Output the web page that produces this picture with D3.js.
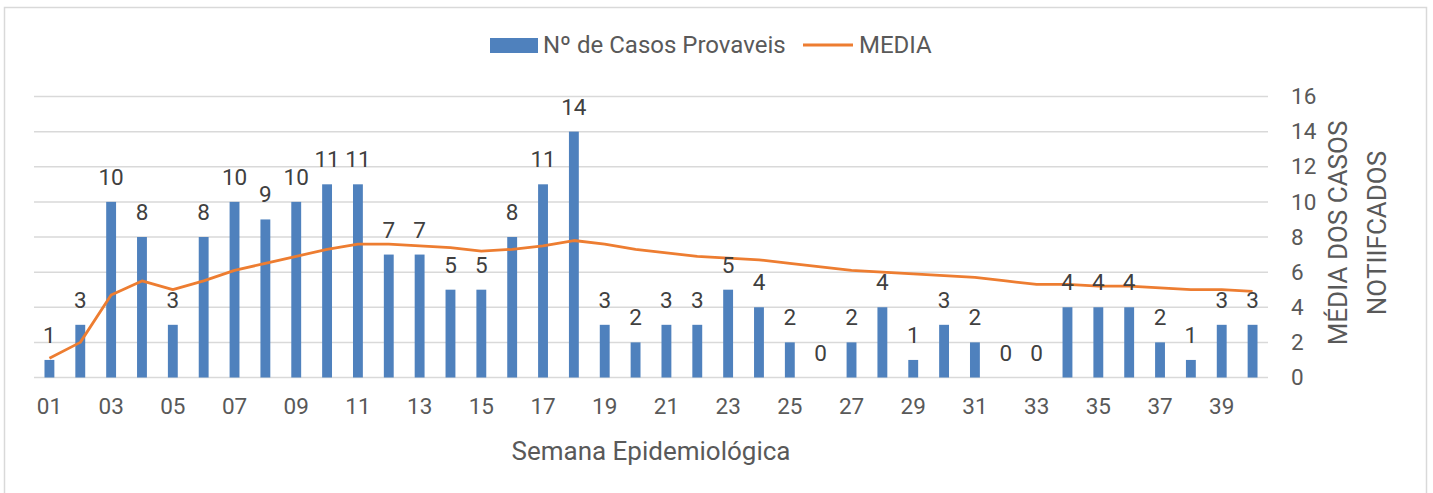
<!DOCTYPE html>
<html>
<head>
<meta charset="utf-8">
<script src="https://cdn.jsdelivr.net/npm/d3@7"></script>
<style>
  body { margin: 0; background: #fff; }
  svg text { font-family: Roboto, "Noto Sans", sans-serif; }
</style>
</head>
<body>
<div id="chart"></div>
<script>
var width = 1433;
var height = 493;

// semanas epidemiologicas
var semanas = ['01','02','03','04','05','06','07','08','09','10',
               '11','12','13','14','15','16','17','18','19','20',
               '21','22','23','24','25','26','27','28','29','30',
               '31','32','33','34','35','36','37','38','39','40'];

// Nº de Casos Provaveis
var casos = [1, 3, 10, 8, 3, 8, 10, 9, 10, 11,
             11, 7, 7, 5, 5, 8, 11, 14, 3, 2,
             3, 3, 5, 4, 2, 0, 2, 4, 1, 3,
             2, 0, 0, 4, 4, 4, 2, 1, 3, 3];

// MEDIA
var media = [1.1, 2.0, 4.7, 5.5, 5.0, 5.5, 6.1, 6.5, 6.9, 7.3,
             7.6, 7.6, 7.5, 7.4, 7.2, 7.3, 7.5, 7.8, 7.6, 7.3,
             7.1, 6.9, 6.8, 6.7, 6.5, 6.3, 6.1, 6.0, 5.9, 5.8,
             5.7, 5.5, 5.3, 5.3, 5.2, 5.2, 5.1, 5.0, 5.0, 4.9];

var yTicks = [0, 2, 4, 6, 8, 10, 12, 14, 16];
var xTickLabels = semanas.filter(function(d, i) { return i % 2 === 0; });

var svg = d3.select('#chart')
    .append('svg')
    .attr('width', width)
    .attr('height', height);

// chart frame
svg.append('rect')
    .attr('x', 4.5).attr('y', 7.5)
    .attr('width', 1422).attr('height', 520)
    .attr('fill', 'none')
    .attr('stroke', '#d9d9d9')
    .attr('stroke-width', 1.5);

var x = d3.scaleBand()
    .domain(semanas)
    .range([34, 1268])
    .paddingInner(0.68)
    .paddingOuter(0.34);

var y = d3.scaleLinear()
    .domain([0, 16])
    .range([377.5, 96.5]);

// gridlines
svg.append('g')
    .selectAll('line')
    .data(yTicks)
    .enter()
    .append('line')
    .attr('x1', 34).attr('x2', 1268)
    .attr('y1', function(d) { return y(d); })
    .attr('y2', function(d) { return y(d); })
    .attr('stroke', '#d9d9d9')
    .attr('stroke-width', 1.5);

// right axis
var yAxis = d3.axisRight(y)
    .tickValues(yTicks)
    .tickSize(0)
    .tickPadding(0);

var gy = svg.append('g')
    .attr('transform', 'translate(1291,0)')
    .call(yAxis);
gy.select('.domain').remove();
gy.selectAll('text')
    .attr('fill', '#595959')
    .style('font-size', '22.5px');

// bottom axis
var xAxis = d3.axisBottom(x)
    .tickValues(xTickLabels)
    .tickSize(0)
    .tickPadding(0);

var gx = svg.append('g')
    .attr('transform', 'translate(0,398)')
    .call(xAxis);
gx.select('.domain').remove();
gx.selectAll('text')
    .attr('fill', '#595959')
    .style('font-size', '22.5px');

// bars
svg.selectAll('rect.bar')
    .data(casos)
    .enter()
    .append('rect')
    .attr('class', 'bar')
    .attr('x', function(d, i) { return x(semanas[i]); })
    .attr('y', function(d) { return y(d); })
    .attr('width', x.bandwidth())
    .attr('height', function(d) { return y(0) - y(d); })
    .attr('fill', '#4f81bd');

// media line
var line = d3.line()
    .x(function(d, i) { return x(semanas[i]) + x.bandwidth() / 2; })
    .y(function(d) { return y(d); });

svg.append('path')
    .attr('d', line(media))
    .attr('fill', 'none')
    .attr('stroke', '#ed7d31')
    .attr('stroke-width', 2.8)
    .attr('stroke-linejoin', 'round');

// data labels
svg.selectAll('text.lbl')
    .data(casos)
    .enter()
    .append('text')
    .attr('class', 'lbl')
    .attr('x', function(d, i) { return x(semanas[i]) + x.bandwidth() / 2; })
    .attr('y', function(d) { return y(d) - 17; })
    .attr('text-anchor', 'middle')
    .attr('fill', '#404040')
    .style('font-size', '22.5px')
    .text(function(d) { return d; });

// axis titles
svg.append('text')
    .attr('x', 651)
    .attr('y', 460)
    .attr('text-anchor', 'middle')
    .attr('fill', '#595959')
    .style('font-size', '26px')
    .text('Semana Epidemiológica');

var yTitle = svg.append('text')
    .attr('transform', 'translate(1349,233) rotate(-90)')
    .attr('text-anchor', 'middle')
    .attr('fill', '#595959')
    .style('font-size', '26px');
yTitle.append('tspan').attr('x', 0).attr('y', -11).attr('dy', '0.35em').text('MÉDIA DOS CASOS');
yTitle.append('tspan').attr('x', 0).attr('y', 28).attr('dy', '0.35em').text('NOTIIFCADOS');

// legend
var legend = svg.append('g');
legend.append('rect')
    .attr('x', 490).attr('y', 38)
    .attr('width', 48).attr('height', 15)
    .attr('fill', '#4f81bd');
legend.append('text')
    .attr('x', 543).attr('y', 45)
    .attr('dy', '0.35em')
    .attr('fill', '#595959')
    .style('font-size', '24px')
    .text('Nº de Casos Provaveis');
legend.append('line')
    .attr('x1', 803).attr('x2', 853)
    .attr('y1', 45).attr('y2', 45)
    .attr('stroke', '#ed7d31')
    .attr('stroke-width', 2.8);
legend.append('text')
    .attr('x', 859).attr('y', 45)
    .attr('dy', '0.35em')
    .attr('fill', '#595959')
    .style('font-size', '24px')
    .text('MEDIA');
</script>
</body>
</html>
